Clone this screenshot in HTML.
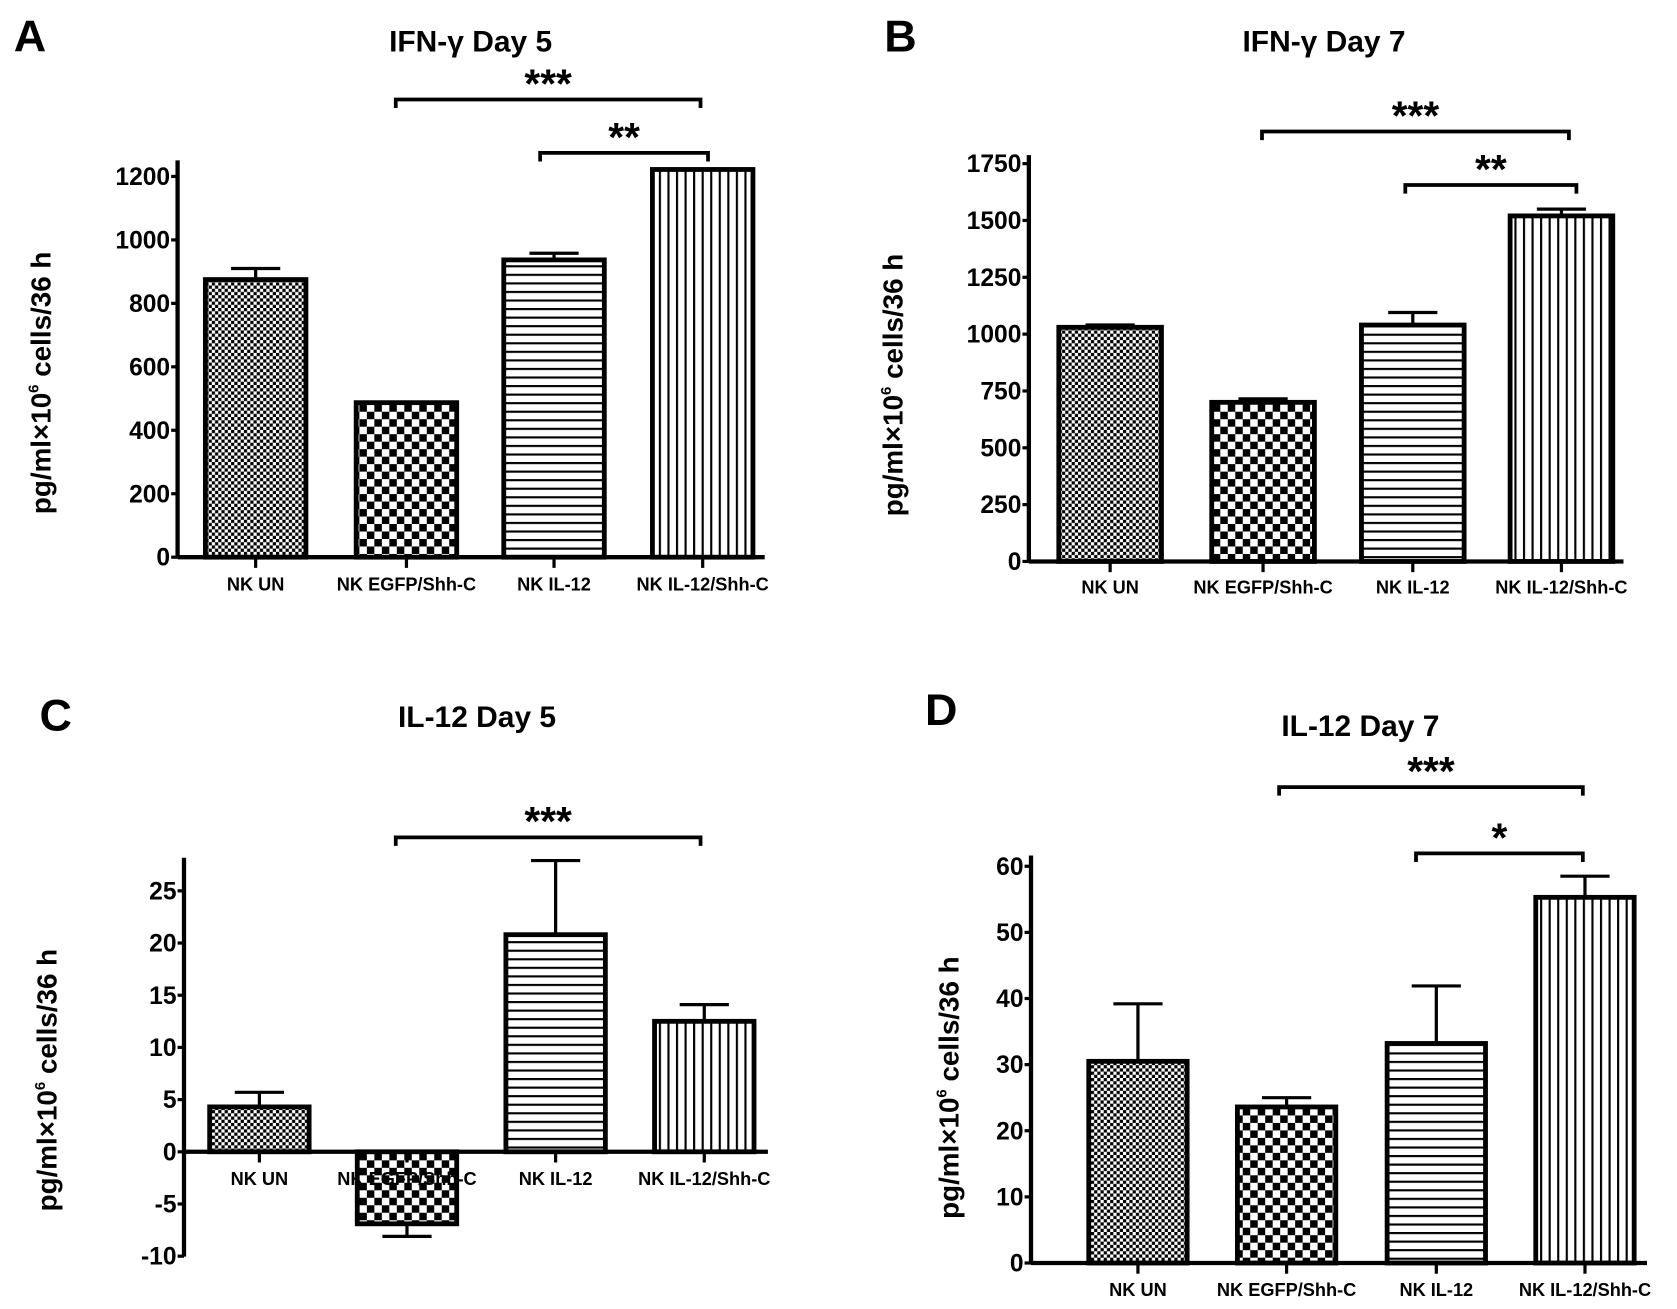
<!DOCTYPE html>
<html><head><meta charset="utf-8"><style>
html,body{margin:0;padding:0;background:#fff;}
svg{display:block;}
text{font-family:"Liberation Sans",Arial,sans-serif;font-weight:bold;fill:#000;}
</style></head><body>
<svg id="fig" xmlns="http://www.w3.org/2000/svg" width="1677" height="1309" viewBox="0 0 1568 1224">
<defs>
<pattern id="pFine" width="6" height="6" patternUnits="userSpaceOnUse"><rect width="6" height="6" fill="#fff"/><rect width="3" height="3" fill="#000"/><rect x="3" y="3" width="3" height="3" fill="#000"/></pattern>
<pattern id="pCoarse" width="14" height="14" patternUnits="userSpaceOnUse"><rect width="14" height="14" fill="#fff"/><rect width="7" height="7" fill="#000"/><rect x="7" y="7" width="7" height="7" fill="#000"/></pattern>
<pattern id="pHoriz" width="8" height="8" patternUnits="userSpaceOnUse"><rect width="8" height="8" fill="#fff"/><rect y="0" width="8" height="2" fill="#000"/></pattern>
<pattern id="pVert" width="8" height="8" patternUnits="userSpaceOnUse"><rect width="8" height="8" fill="#fff"/><rect x="0" width="2" height="8" fill="#000"/></pattern>
</defs>
</svg>
<script>
const categories = ["NK UN","NK EGFP/Shh-C","NK IL-12","NK IL-12/Shh-C"];
const valuesA = [875, 487, 937, 1222];
const errorsA = [910, null, 958, null];
const ticksA = [0,200,400,600,800,1000,1200];
const valuesB = [1030, 700, 1040, 1520];
const errorsB = [1040, 715, 1095, 1550];
const ticksB = [0,250,500,750,1000,1250,1500,1750];
const valuesC = [4.3, -6.9, 20.8, 12.5];
const errorsC = [5.7, -8.1, 27.9, 14.1];
const ticksC = [-10,-5,0,5,10,15,20,25];
const valuesD = [30.5, 23.6, 33.2, 55.3];
const errorsD = [39.2, 25.0, 41.9, 58.5];
const ticksD = [0,10,20,30,40,50,60];

const fills = ["url(#pFine)","url(#pCoarse)","url(#pHoriz)","url(#pVert)"];
const NS = "http://www.w3.org/2000/svg";
const svg = document.getElementById('fig');
function mk(tag, attrs, parent){const e=document.createElementNS(NS,tag);for(const k in attrs)e.setAttribute(k,attrs[k]);(parent||svg).appendChild(e);return e;}

const panels = [
 {id:'a',letter:'A',lx:28,ly:35,title:'IFN-γ Day 5',tx:440,ty:38,ax:166,yTop:150,y0v:0,y0:521,yMaxV:1200,yMax:165,xEnd:715,barX:[192,333,471,610],bw:94,labY:552,xAxisV:0,
  vals:valuesA,errs:errorsA,ticks:ticksA,yBottom:521,ytc:358,ytx:38,
  br:[{x1:370,x2:655,y:93,s:'***'},{x1:505,x2:662,y:143,s:'**'}]},
 {id:'b',letter:'B',lx:842,ly:35,title:'IFN-γ Day 7',tx:1238,ty:38,ax:962,yTop:145,y0v:0,y0:525,yMaxV:1750,yMax:153,xEnd:1518,barX:[990,1133,1273,1412],bw:96,labY:555,xAxisV:0,
  vals:valuesB,errs:errorsB,ticks:ticksB,yBottom:525,ytc:360,ytx:835,
  br:[{x1:1180,x2:1467,y:123,s:'***'},{x1:1314,x2:1474,y:173,s:'**'}]},
 {id:'c',letter:'C',lx:52,ly:670,title:'IL-12 Day 5',tx:446,ty:670,ax:172,yTop:802,y0v:0,y0:1077,yMaxV:25,yMax:833,xEnd:718,barX:[196,334,473,612],bw:93,labY:1108,xAxisV:0,
  vals:valuesC,errs:errorsC,ticks:ticksC,yBottom:1175,ytc:1010,ytx:44,
  br:[{x1:370,x2:655,y:783,s:'***'}]},
 {id:'d',letter:'D',lx:880,ly:665,title:'IL-12 Day 7',tx:1272,ty:678,ax:964,yTop:800,y0v:0,y0:1181,yMaxV:60,yMax:810,xEnd:1540,barX:[1018,1157,1297,1436],bw:92,labY:1212,xAxisV:0,
  vals:valuesD,errs:errorsD,ticks:ticksD,yBottom:1181,ytc:1017,ytx:887,
  br:[{x1:1196,x2:1480,y:736,s:'***'},{x1:1324,x2:1480,y:798,s:'*'}]}
];

panels.forEach(p=>{
  const g = mk('g',{});
  
  
  const y = v => p.y0 + (v - p.y0v)*(p.yMax - p.y0)/(p.yMaxV - p.y0v);
  const t1 = mk('text',{x:p.lx,y:p.ly+13,'font-size':42,'text-anchor':'middle'},g); t1.textContent=p.letter;
   
  const t2 = mk('text',{x:p.tx,y:p.ty+10,'font-size':28,'text-anchor':'middle'},g); t2.textContent=p.title;
   
  const yt = mk('text',{x:0,y:0,'font-size':26,'text-anchor':'middle',transform:`translate(${p.ytx+9},${p.ytc}) rotate(-90)`},g);
  yt.innerHTML = 'pg/ml×10<tspan font-size="14" dy="-11">6</tspan><tspan dy="11"> cells/36 h</tspan>';
   
  p.vals.forEach((v,i)=>{
    const x = p.barX[i], top = Math.min(y(v),y(0)), h = Math.abs(y(v)-y(0));
    const r = mk('rect',{x:x,y:top,width:p.bw,height:h,fill:fills[i],stroke:'#000','stroke-width':4.5},g);
     
    const e = p.errs[i];
    if(e!==null){
      const cx = x + p.bw/2;
      const el = mk('path',{d:`M${cx},${y(v)}L${cx},${y(e)}M${cx-23},${y(e)}L${cx+23},${y(e)}`,stroke:'#000','stroke-width':3,fill:'none'},g);
       
    }
  });
  const ya = mk('line',{x1:p.ax,y1:p.yTop,x2:p.ax,y2:p.yBottom,stroke:'#000','stroke-width':4},g);
   
  const xa = mk('line',{x1:p.ax,y1:y(p.xAxisV),x2:p.xEnd,y2:y(p.xAxisV),stroke:'#000','stroke-width':4},g);
   
  p.ticks.forEach(tv=>{
    mk('line',{x1:p.ax-6,y1:y(tv),x2:p.ax,y2:y(tv),stroke:'#000','stroke-width':3},g);
    const tl = mk('text',{x:p.ax-7,y:y(tv)+8,'font-size':23,'text-anchor':'end'},g);
    tl.textContent = tv;
     
  });
  categories.forEach((c,i)=>{
    const cx = p.barX[i]+p.bw/2;
    mk('line',{x1:cx,y1:y(0),x2:cx,y2:y(0)+10,stroke:'#000','stroke-width':3},g);
    const cl = mk('text',{x:cx,y:p.labY,'font-size':17,'text-anchor':'middle'},g);
    cl.textContent = c;
     
  });
  p.br.forEach(b=>{
    const bp = mk('path',{d:`M${b.x1},${b.y+8}L${b.x1},${b.y}L${b.x2},${b.y}L${b.x2},${b.y+8}`,stroke:'#000','stroke-width':3.5,fill:'none'},g);
     
    const st = mk('text',{x:(b.x1+b.x2)/2,y:b.y-2,'font-size':38,'text-anchor':'middle'},g);
    st.textContent = b.s;
     
  });
});
</script>
</body></html>
